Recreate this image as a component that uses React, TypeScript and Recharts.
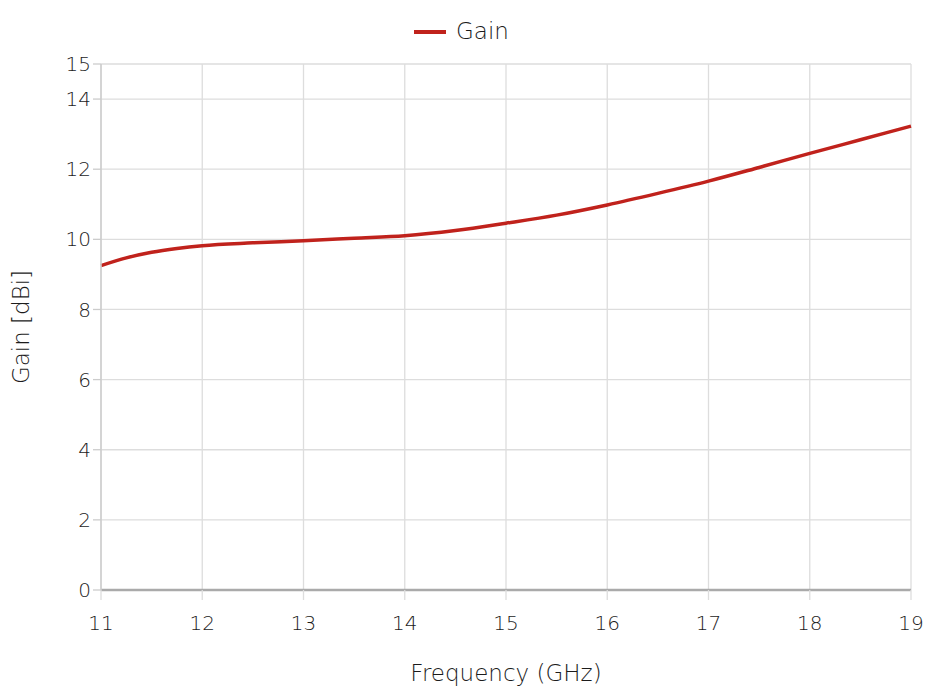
import React from "react";
import { LineChart, Line, XAxis, YAxis, CartesianGrid, Legend } from "recharts";

const frequency = [11, 11.25, 11.5, 11.75, 12, 12.5, 13, 13.5, 14, 14.5, 15, 15.5, 16, 16.5, 17, 17.5, 18, 18.5, 19];
const gain = [9.25, 9.47, 9.63, 9.74, 9.82, 9.9, 9.96, 10.03, 10.1, 10.25, 10.46, 10.69, 10.98, 11.31, 11.66, 12.05, 12.45, 12.84, 13.23];
const xTicks = [11, 12, 13, 14, 15, 16, 17, 18, 19];
const yTicks = [0, 2, 4, 6, 8, 10, 12, 14, 15];

const data = frequency.map((f, i) => ({ f, gain: gain[i] }));

const FONT = "'DejaVu Sans', 'Open Sans', sans-serif";
const TEXT = "#1c1c1c";

export default function App() {
  return (
    <div style={{ position: "fixed", left: 0, top: 0, width: 930, height: 696, background: "#fff" }}>
      <LineChart
        width={930}
        height={696}
        data={data}
        margin={{ top: 20, right: 19, left: 0, bottom: 0 }}
        style={{ fontFamily: FONT }}
      >
        <CartesianGrid stroke="#dddddd" strokeWidth={1.3} />
        <XAxis
          dataKey="f"
          type="number"
          domain={[11, 19]}
          ticks={xTicks}
          interval={0}
          height={106}
          stroke="#aaaaaa"
          strokeWidth={2.5}
          tickLine={{ stroke: "#dddddd", strokeWidth: 1.3 }}
          tickSize={10}
          tick={{ fill: TEXT, fontSize: 20, fontWeight: 200, dy: 14 }}
          label={{ value: "Frequency (GHz)", position: "insideBottom", offset: 15, fill: TEXT, fontSize: 23, fontWeight: 200 }}
        />
        <YAxis
          type="number"
          domain={[0, 15]}
          ticks={yTicks}
          interval={0}
          width={101}
          stroke="#cccccc"
          strokeWidth={1.5}
          tickLine={{ stroke: "#cccccc", strokeWidth: 1.3 }}
          tickSize={8}
          tick={{ fill: TEXT, fontSize: 20, fontWeight: 200 }}
          label={{ value: "Gain [dBi]", angle: -90, position: "insideLeft", offset: 21, fill: TEXT, fontSize: 23, fontWeight: 200, style: { textAnchor: "middle" } }}
        />
        <Legend
          verticalAlign="top"
          align="center"
          height={44}
          iconType="plainline"
          iconSize={32}
          wrapperStyle={{ top: 16, paddingLeft: 11, fontSize: 23, fontWeight: 200, color: TEXT }}
          formatter={(v) => <span style={{ color: TEXT, marginLeft: 6 }}>{v}</span>}
        />
        <Line
          type="monotone"
          dataKey="gain"
          name="Gain"
          stroke="#c0221c"
          strokeWidth={3.5}
          dot={false}
          isAnimationActive={false}
        />
      </LineChart>
    </div>
  );
}
